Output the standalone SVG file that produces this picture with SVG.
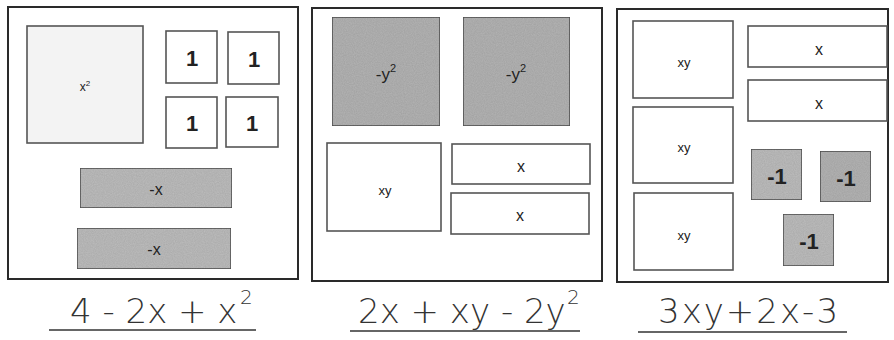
<svg xmlns="http://www.w3.org/2000/svg" width="894" height="340" viewBox="0 0 894 340">
<style>
.panel{fill:#fff;stroke:#2a2a2a;stroke-width:2}
.tile{stroke:#555;stroke-width:1.6}
.white{fill:#fff}
.light{fill:#f3f3f3}
.dark{fill:#b4b4b4}
.mid{fill:#bdbdbd}
.lbl{font-family:"Liberation Sans",Arial,sans-serif;fill:#222;text-anchor:middle;dominant-baseline:central}
.hand{font-family:"DejaVu Sans","Liberation Sans",sans-serif;font-weight:200;fill:#333;font-size:34px}
.sup{font-family:"DejaVu Sans","Liberation Sans",sans-serif;font-weight:200;fill:#333;font-size:20px}
.ul{stroke:#333;stroke-width:1.6}
</style>
<defs>
<filter id="grain" x="0" y="0" width="100%" height="100%">
<feTurbulence type="fractalNoise" baseFrequency="0.9" numOctaves="2" seed="3" result="n"/>
<feColorMatrix in="n" type="matrix" values="0 0 0 0 0  0 0 0 0 0  0 0 0 0 0  0 0 0 0.22 0" result="a"/>
<feComposite in="a" in2="SourceGraphic" operator="in" result="m"/>
<feMerge><feMergeNode in="SourceGraphic"/><feMergeNode in="m"/></feMerge>
</filter>
</defs>

<g id="panel1">
<rect class="panel" x="8" y="7" width="290" height="272"/>
<g id="p1-x2"><rect class="tile light" x="27" y="26" width="116" height="117"/><text class="lbl" x="85" y="87" font-size="12">x<tspan dy="-4" font-size="8">2</tspan></text></g>
<g id="p1-one1"><rect class="tile white" x="166" y="31" width="51" height="52"/><text class="lbl" x="192" y="58" font-size="22" font-weight="bold">1</text></g>
<g id="p1-one2"><rect class="tile white" x="228" y="32" width="51" height="52"/><text class="lbl" x="254" y="59" font-size="22" font-weight="bold">1</text></g>
<g id="p1-one3"><rect class="tile white" x="166" y="97" width="51" height="51"/><text class="lbl" x="192" y="123" font-size="22" font-weight="bold">1</text></g>
<g id="p1-one4"><rect class="tile white" x="226" y="97" width="52" height="50"/><text class="lbl" x="252" y="123" font-size="22" font-weight="bold">1</text></g>
<g id="p1-negx1"><rect class="tile mid" x="80" y="168" width="152" height="40" filter="url(#grain)"/><text class="lbl" x="156" y="189" font-size="16">-x</text></g>
<g id="p1-negx2"><rect class="tile mid" x="77" y="228" width="154" height="41" filter="url(#grain)"/><text class="lbl" x="154" y="249" font-size="16">-x</text></g>
<text class="hand" x="70" y="323">4 - 2x + x</text>
<text class="sup" x="240" y="304">2</text>
<line class="ul" x1="49" y1="330" x2="256" y2="330"/>
</g>

<g id="panel2">
<rect class="panel" x="312" y="8" width="290" height="273"/>
<g id="p2-negy2a"><rect class="tile dark" x="332" y="17" width="108" height="109" filter="url(#grain)"/><text class="lbl" x="386" y="74" font-size="17">-y<tspan dy="-6" font-size="11">2</tspan></text></g>
<g id="p2-negy2b"><rect class="tile dark" x="463" y="17" width="107" height="109" filter="url(#grain)"/><text class="lbl" x="516" y="74" font-size="17">-y<tspan dy="-6" font-size="11">2</tspan></text></g>
<g id="p2-xy"><rect class="tile white" x="327" y="143" width="114" height="88"/><text class="lbl" x="385" y="190" font-size="13">xy</text></g>
<g id="p2-x1"><rect class="tile white" x="452" y="144" width="138" height="40"/><text class="lbl" x="521" y="166" font-size="16">x</text></g>
<g id="p2-x2"><rect class="tile white" x="451" y="193" width="138" height="41"/><text class="lbl" x="520" y="215" font-size="16">x</text></g>
<text class="hand" x="358" y="323">2x + xy - 2y</text>
<text class="sup" x="567" y="304">2</text>
<line class="ul" x1="350" y1="331" x2="580" y2="331"/>
</g>

<g id="panel3">
<rect class="panel" x="617" y="9" width="271" height="273"/>
<g id="p3-xy1"><rect class="tile white" x="633" y="21" width="100" height="77"/><text class="lbl" x="684" y="62" font-size="13">xy</text></g>
<g id="p3-xy2"><rect class="tile white" x="633" y="107" width="100" height="76"/><text class="lbl" x="684" y="147" font-size="13">xy</text></g>
<g id="p3-xy3"><rect class="tile white" x="634" y="193" width="99" height="77"/><text class="lbl" x="684" y="235" font-size="13">xy</text></g>
<g id="p3-x1"><rect class="tile white" x="748" y="26" width="139" height="41"/><text class="lbl" x="819" y="49" font-size="16">x</text></g>
<g id="p3-x2"><rect class="tile white" x="748" y="80" width="139" height="41"/><text class="lbl" x="819" y="103" font-size="16">x</text></g>
<g id="p3-neg1a"><rect class="tile mid" x="751" y="149" width="51" height="51" filter="url(#grain)"/><text class="lbl" x="777" y="176" font-size="22" font-weight="bold">-1</text></g>
<g id="p3-neg1b"><rect class="tile dark" x="820" y="151" width="51" height="51" filter="url(#grain)"/><text class="lbl" x="846" y="178" font-size="22" font-weight="bold">-1</text></g>
<g id="p3-neg1c"><rect class="tile mid" x="783" y="214" width="51" height="52" filter="url(#grain)"/><text class="lbl" x="809" y="241" font-size="22" font-weight="bold">-1</text></g>
<text class="hand" x="658" y="323" font-size="36" letter-spacing="2">3xy+2x-3</text>
<line class="ul" x1="638" y1="332" x2="847" y2="332"/>
</g>
</svg>
